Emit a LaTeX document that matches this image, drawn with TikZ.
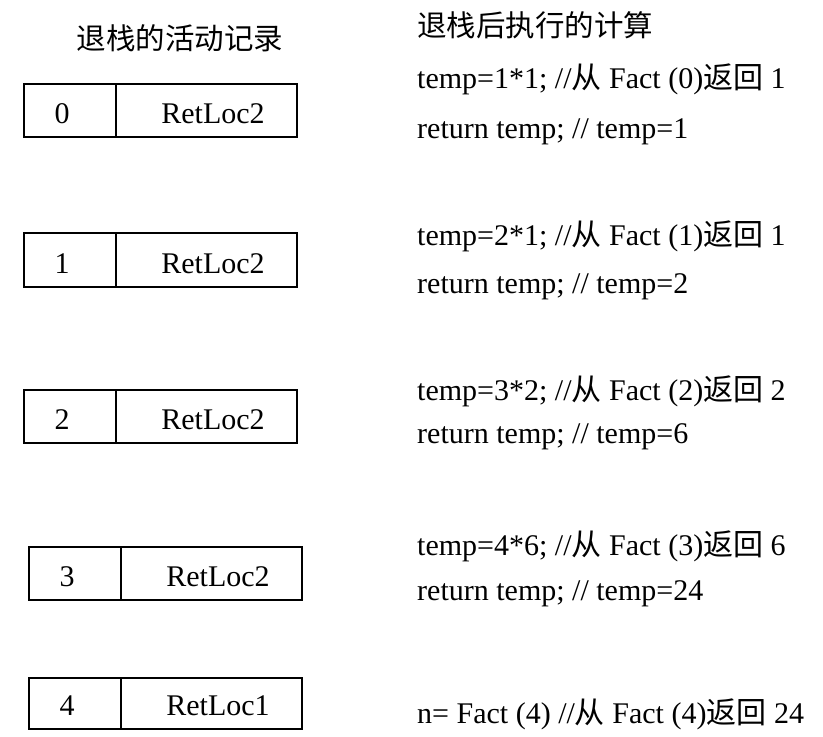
\documentclass[tikz,border=0pt]{standalone}
\usepackage{fontspec}
\setmainfont{Liberation Serif}
\newfontfamily\cjk{Noto Sans CJK SC}
\tikzset{
  cell/.style={draw, line width=2bp, rectangle, inner sep=0pt, anchor=north west},
  txt/.style={inner sep=0pt, anchor=base west, font=\fontsize{30bp}{36bp}\selectfont},
  ctxt/.style={inner sep=0pt, anchor=base, font=\fontsize{30bp}{36bp}\selectfont},
  hdr/.style={inner sep=0pt, font=\fontsize{29.5bp}{34bp}\selectfont\cjk},
}
\begin{document}
\begin{tikzpicture}[x=1bp,y=-1bp]
\useasboundingbox (0,0) rectangle (823,737);
% headers
\node[hdr] (hl) at (180,38) {退栈的活动记录};
\node[hdr, anchor=west] (hr) at (417,25) {退栈后执行的计算};
% boxes
\node[cell, minimum width=92bp, minimum height=53bp] (a0) at (23,83) {};
\node[cell, minimum width=181bp, minimum height=53bp] (b0) at (115,83) {};
\node[cell, minimum width=92bp, minimum height=54bp] (a1) at (23,232) {};
\node[cell, minimum width=181bp, minimum height=54bp] (b1) at (115,232) {};
\node[cell, minimum width=92bp, minimum height=53bp] (a2) at (23,389) {};
\node[cell, minimum width=181bp, minimum height=53bp] (b2) at (115,389) {};
\node[cell, minimum width=92bp, minimum height=53bp] (a3) at (28,546) {};
\node[cell, minimum width=181bp, minimum height=53bp] (b3) at (120,546) {};
\node[cell, minimum width=92bp, minimum height=51bp] (a4) at (28,677) {};
\node[cell, minimum width=181bp, minimum height=51bp] (b4) at (120,677) {};
% cell texts
\node[ctxt] (na0) at (62,123) {0};
\node[ctxt] (rb0) at (213,123) {RetLoc2};
\node[ctxt] (na1) at (62,273) {1};
\node[ctxt] (rb1) at (213,273) {RetLoc2};
\node[ctxt] (na2) at (62,429) {2};
\node[ctxt] (rb2) at (213,429) {RetLoc2};
\node[ctxt] (na3) at (67,586) {3};
\node[ctxt] (rb3) at (218,586) {RetLoc2};
\node[ctxt] (na4) at (67,715) {4};
\node[ctxt] (rb4) at (218,715) {RetLoc1};
% right column
\node[txt] (t0a) at (417,88) {temp=1*1; //{\cjk 从} Fact (0){\cjk 返回} 1};
\node[txt] (t0b) at (417,138) {return temp; // temp=1};
\node[txt] (t1a) at (417,245) {temp=2*1; //{\cjk 从} Fact (1){\cjk 返回} 1};
\node[txt] (t1b) at (417,293) {return temp; // temp=2};
\node[txt] (t2a) at (417,400) {temp=3*2; //{\cjk 从} Fact (2){\cjk 返回} 2};
\node[txt] (t2b) at (417,443) {return temp; // temp=6};
\node[txt] (t3a) at (417,555) {temp=4*6; //{\cjk 从} Fact (3){\cjk 返回} 6};
\node[txt] (t3b) at (417,600) {return temp; // temp=24};
\node[txt] (t4a) at (417,723) {n= Fact (4) //{\cjk 从} Fact (4){\cjk 返回} 24};
\end{tikzpicture}
\end{document}
